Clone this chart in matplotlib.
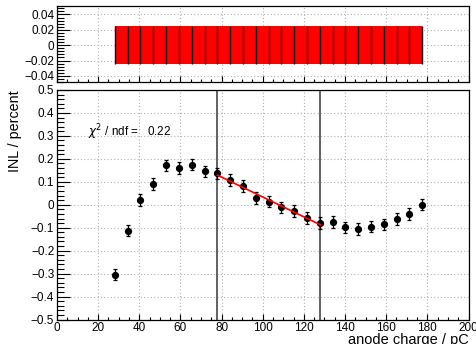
import numpy as np
import matplotlib.pyplot as plt
from matplotlib.ticker import MultipleLocator, AutoMinorLocator

plt.rcParams['font.family'] = ['Liberation Sans', 'DejaVu Sans']

# anode charge (pC) of each point
charge = [28.0, 34.3, 40.5, 46.7, 53.0, 59.2, 65.4, 71.7, 77.9, 84.1, 90.4, 96.6, 102.8,
          109.0, 115.3, 121.5, 127.7, 134.0, 140.2, 146.4, 152.6, 158.9, 165.1, 171.3, 177.6]
# INL in percent
inl = [-0.305, -0.113, 0.020, 0.091, 0.172, 0.161, 0.175, 0.145, 0.137, 0.107, 0.081, 0.030, 0.014,
       -0.011, -0.027, -0.058, -0.079, -0.076, -0.098, -0.105, -0.095, -0.085, -0.063, -0.040, 0.001]
inl_err = [0.025] * len(charge)
# uncertainty band shown in the upper pad
band_err = [0.025] * len(charge)
fit_lo, fit_hi = 78.0, 128.0
chi2_ndf = 0.22

x = np.array(charge)
y = np.array(inl)
sel = (x >= fit_lo - 0.5) & (x <= fit_hi + 0.5)
p = np.polyfit(x[sel], y[sel], 1)

fig = plt.figure(figsize=(4.77, 3.44), dpi=100)
ax1 = fig.add_axes([0.1195, 0.7616, 0.8627, 0.221])
ax2 = fig.add_axes([0.1195, 0.0712, 0.8627, 0.6672])

def style(ax):
    ax.set_xlim(0, 200)
    ax.xaxis.set_major_locator(MultipleLocator(20))
    ax.xaxis.set_minor_locator(AutoMinorLocator(4))
    ax.yaxis.set_minor_locator(AutoMinorLocator(5))
    ax.grid(True, which='major', color='#b0b0b0', linestyle=(0, (1, 2)), linewidth=0.8)
    ax.tick_params(which='both', direction='in', top=False, right=False, labelsize=8.5,
                   width=0.8, pad=2)
    ax.tick_params(axis='y', which='major', length=9.5)
    ax.tick_params(axis='y', which='minor', length=5)
    ax.tick_params(axis='x', which='major', length=4.5)
    ax.tick_params(axis='x', which='minor', length=2.5)
    for s in ax.spines.values():
        s.set_linewidth(0.9)
    ax.set_axisbelow(True)

# upper pad: error band
style(ax1)
ax1.set_ylim(-0.048, 0.051)
ax1.yaxis.set_major_locator(MultipleLocator(0.02))
ax1.yaxis.set_major_formatter(plt.FuncFormatter(lambda v, _: '0' if abs(v) < 1e-9 else ('%.2f' % v).replace('-', '\u2212')))
ax1.fill_between(x, -np.array(band_err), band_err, color='#ff0000', linewidth=0, zorder=2)
ax1.errorbar(x, np.zeros_like(x), yerr=band_err, fmt='none', ecolor='#111111',
             elinewidth=1.0, capsize=0, zorder=3)
ax1.tick_params(axis='x', labelbottom=False)

# lower pad: INL points and linear fit
style(ax2)
ax2.set_ylim(-0.5, 0.5)
ax2.yaxis.set_major_locator(MultipleLocator(0.1))
ax2.yaxis.set_major_formatter(plt.FuncFormatter(lambda v, _: '0' if abs(v) < 1e-9 else ('%.1f' % v).replace('-', '\u2212')))
ax2.axvline(fit_lo, color='#555555', linewidth=1.3, zorder=2)
ax2.axvline(fit_hi, color='#555555', linewidth=1.3, zorder=2)
ax2.errorbar(x, y, yerr=inl_err, fmt='o', ms=4.2, color='black', elinewidth=0.9,
             capsize=1.2, capthick=0.9, zorder=4)
xf = np.array([fit_lo, fit_hi])
ax2.plot(xf, np.polyval(p, xf), color='#ff0000', linewidth=1.2, zorder=5)
ax2.text(15.1, 0.318, '$\\chi^2$ / ndf =   %.2f' % chi2_ndf, fontsize=8.4, ha='left', va='center')

fig.text(0.031, 0.7384, 'INL / percent', rotation=90, ha='center', va='top', fontsize=10.3)
fig.text(0.982, 0.0, 'anode charge / pC', ha='right', va='baseline', fontsize=10.5)

fig.savefig('out.png', dpi=100)
